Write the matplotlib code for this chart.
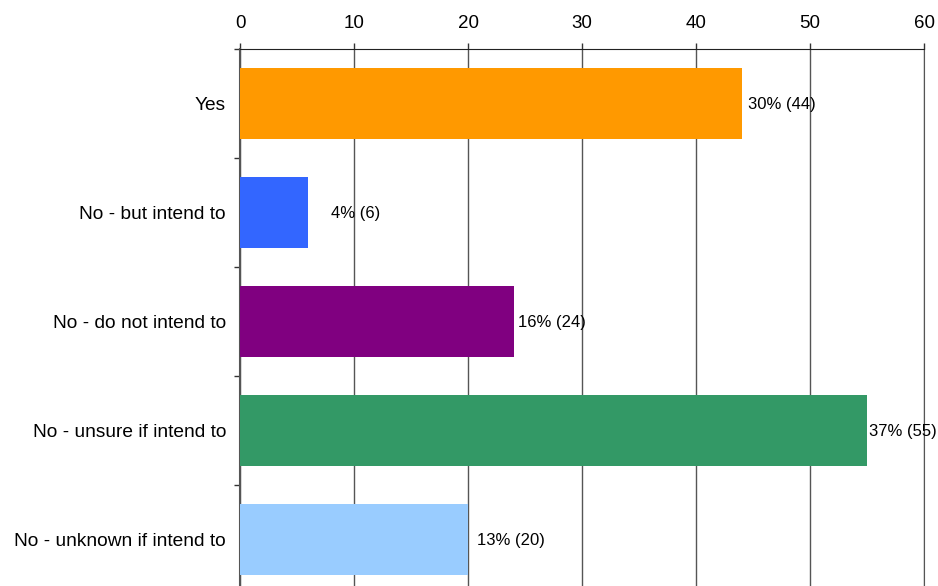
import numpy as np
import matplotlib
matplotlib.use("Agg")
import matplotlib.pyplot as plt

categories = ["Yes", "No - but intend to", "No - do not intend to",
              "No - unsure if intend to", "No - unknown if intend to"]
counts = [44, 6, 24, 55, 20]
percents = [30, 4, 16, 37, 13]
colors = ["#FF9900", "#3366FF", "#800080", "#339966", "#99CCFF"]
x_ticks = [0, 10, 20, 30, 40, 50, 60]

# label gap after each bar end (pixels), as drawn in the original
label_pad = [6, 23, 4, 2, 9]

plt.rcParams['font.family'] = ['Liberation Sans', 'DejaVu Sans']

fig = plt.figure(figsize=(9.38, 5.86), dpi=100)
W, H = 938, 586
ax = fig.add_axes([240 / W, 1 - 594 / H, (924 - 240) / W, (594 - 49) / H])

y = np.arange(len(categories))
ax.barh(y, counts, height=0.66, color=colors, zorder=3)

for i, (c, p) in enumerate(zip(counts, percents)):
    ax.annotate(f"{p}% ({c})", xy=(c, i), xytext=(label_pad[i] * 0.72, -1),
                textcoords="offset points", ha="left", va="center",
                fontsize=12, zorder=4)

ax.set_xlim(0, 60)
ax.set_ylim(len(categories) - 0.5, -0.5)
ax.set_xticks(x_ticks)
ax.xaxis.tick_top()
ax.tick_params(axis='x', which='major', length=4.5, width=1, color='#333333',
               labelsize=13.5, pad=8)
ax.set_yticks(y)
ax.set_yticklabels(categories)
ax.set_yticks(np.arange(len(categories) + 1) - 0.5, minor=True)
ax.tick_params(axis='y', which='major', length=0, labelsize=13.8, pad=10)
ax.tick_params(axis='y', which='minor', length=4, width=1, color='#333333')

ax.grid(axis='x', color='#555555', linewidth=1, zorder=1)
ax.spines['bottom'].set_visible(False)
ax.spines['right'].set_color('#555555')
ax.spines['top'].set_color('#222222')
ax.spines['left'].set_color('#555555')
ax.spines['left'].set_linewidth(1.5)

fig.savefig("out.png", dpi=100)
